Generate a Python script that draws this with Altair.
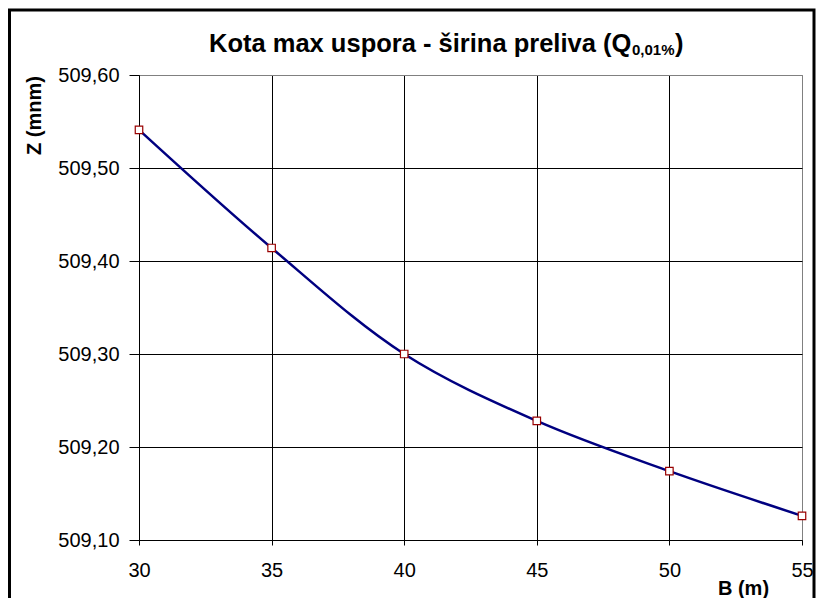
import altair as alt
import pandas as pd

B = [30, 35, 40, 45, 50, 55]
Z = [509.541, 509.414, 509.300, 509.228, 509.174, 509.126]
x_ticks = [30, 35, 40, 45, 50, 55]
y_ticks = [509.1, 509.2, 509.3, 509.4, 509.5, 509.6]
title_main = "Kota max uspora - širina preliva (Q"
title_sub = "0,01%"
title_end = ")"
x_title = "B (m)"
y_title = "Z (mnm)"

df = pd.DataFrame({"B": B, "Z": Z})
FONT = "Liberation Sans"

x_enc = alt.X(
    "B:Q",
    scale=alt.Scale(domain=[30, 55], nice=False, zero=False),
    axis=alt.Axis(
        values=x_ticks, format="d", title=x_title,
        tickSize=5, labelPadding=15, labelFlush=False,
        titleX=604, titleY=54, titleAlign="center", titleBaseline="alphabetic",
        gridColor={"condition": {"test": "datum.value >= 55", "value": "#808080"}, "value": "#000000"},
    ),
)
y_enc = alt.Y(
    "Z:Q",
    scale=alt.Scale(domain=[509.1, 509.6], nice=False, zero=False),
    axis=alt.Axis(
        values=y_ticks, title=y_title, labelFlush=False,
        labelExpr="replace(format(datum.value, '.2f'), '.', ',')",
        tickSize=10, labelPadding=10,
        titleX=-105, titleY=40, titleAlign="center", titleBaseline="middle", titleAngle=-90,
        gridColor={"condition": {"test": "datum.value >= 509.55", "value": "#808080"}, "value": "#000000"},
    ),
)

line = alt.Chart(df).mark_line(
    color="#000080", strokeWidth=2.5, interpolate="catmull-rom"
).encode(x=x_enc, y=y_enc)

points = alt.Chart(df).mark_point(
    shape="square", size=56, filled=True, fill="white", stroke="#990000", strokeWidth=1.2, opacity=1
).encode(x="B:Q", y="Z:Q")

one = pd.DataFrame({"k": [0]})
t_main = alt.Chart(one).mark_text(
    text=title_main, font=FONT, fontSize=25.5, fontWeight="bold", align="left", baseline="alphabetic", color="black"
).encode(x=alt.value(70), y=alt.value(-23))
t_sub = alt.Chart(one).mark_text(
    text=title_sub, font=FONT, fontSize=15, fontWeight="bold", align="left", baseline="alphabetic", color="black"
).encode(x=alt.value(493), y=alt.value(-20))
t_end = alt.Chart(one).mark_text(
    text=title_end, font=FONT, fontSize=25.5, fontWeight="bold", align="left", baseline="alphabetic", color="black"
).encode(x=alt.value(536), y=alt.value(-23))

border = alt.Chart(one).mark_rect(
    fillOpacity=0, stroke="black", strokeWidth=3
).encode(x=alt.value(-129.5), y=alt.value(-65), x2=alt.value(675), y2=alt.value(700))

chart = alt.layer(line, points, t_main, t_sub, t_end, border).properties(
    width=663, height=465,
    autosize=alt.AutoSizeParams(type="none"),
    padding={"left": 131, "top": 67, "right": 15, "bottom": 58},
    background="white",
).configure_view(
    stroke="#808080", strokeWidth=1
).configure_axis(
    labelFont=FONT, labelFontSize=20, labelColor="black",
    titleFont=FONT, titleFontSize=20, titleFontWeight="bold", titleColor="black",
    domainColor="black", tickColor="black", gridColor="black", gridWidth=1,
    gridOpacity=1, domainWidth=1, tickWidth=1,
)

chart.save("out.html", embed_options={"renderer": "svg", "actions": False})
